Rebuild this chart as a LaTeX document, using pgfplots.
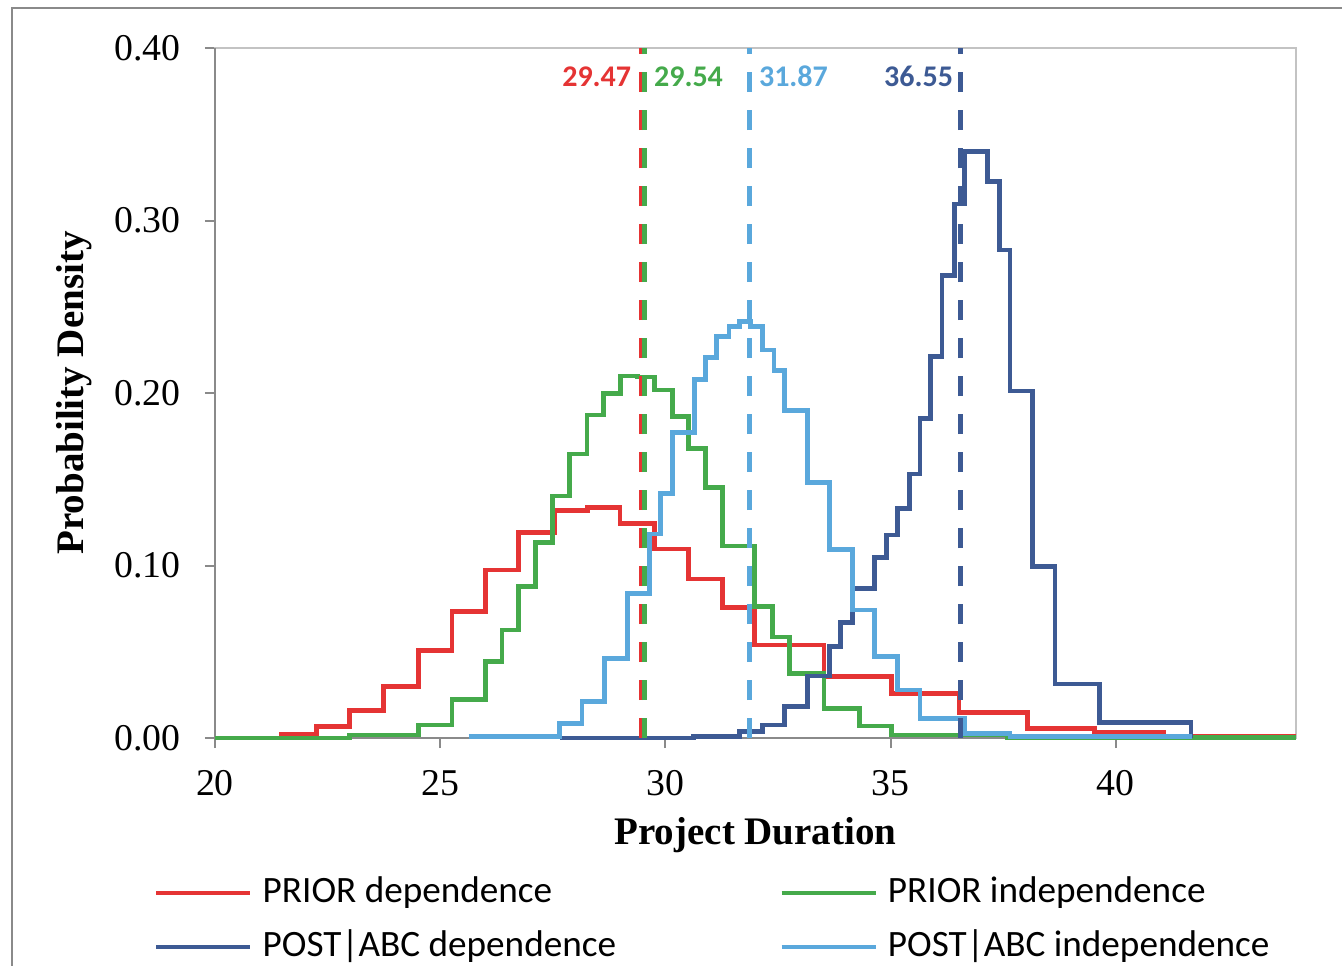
\documentclass[border=0pt]{standalone}
\usepackage{pgfplots}
\pgfplotsset{compat=1.18}
\usepackage{fontspec}
\setmainfont{Liberation Serif}
\newfontfamily\carlito{Carlito}

\definecolor{cRed}{RGB}{229,52,52}
\definecolor{cGreen}{RGB}{69,170,75}
\definecolor{cLight}{RGB}{90,168,220}
\definecolor{cDark}{RGB}{61,90,148}
\definecolor{axgray}{RGB}{138,138,138}
\definecolor{axlight}{RGB}{195,195,195}

\begin{document}
\begin{tikzpicture}
\begin{axis}[
  scale only axis,
  width=540.5pt, height=345pt,
  xmin=20, xmax=44, ymin=0, ymax=0.4,
  clip=false,
  xtick={20,25,30,35,40},
  ytick={0,0.1,0.2,0.3,0.4},
  xtick pos=bottom, ytick pos=left,
  tick align=outside,
  major tick length=5pt,
  tick style={axgray, line width=1pt},
  axis line style={axlight, line width=1pt},
  /pgf/number format/assume math mode=true,
  yticklabel={\pgfmathprintnumber[fixed,fixed zerofill,precision=2]{\tick}},
  ticklabel style={font=\fontsize{18.9}{22}\selectfont},
  yticklabel style={anchor=east, inner sep=0pt, xshift=-12pt},
  xticklabel style={anchor=north, inner sep=0pt, yshift=-11pt},
  xlabel={\bfseries Project Duration},
  ylabel={\bfseries Probability Density},
  label style={font=\fontsize{19.5}{23}\selectfont},
  xlabel style={at={(axis description cs:0.5,-0.155)}, anchor=base, inner sep=0pt},
  ylabel style={at={(axis description cs:-0.1221,0.5)}, anchor=base, inner sep=0pt},
  legend columns=2,
  legend cell align=left,
  legend image code/.code={\draw[#1, solid, line width=2.4pt] (0pt,0pt) -- (47pt,0pt);},
  legend style={at={(axis description cs:-0.0565,-0.2)}, anchor=north west,
    draw=none, fill=none, inner sep=0pt, outer sep=0pt, row sep=10pt,
    font=\carlito\fontsize{18.6}{22}\selectfont,
    nodes={inner sep=0pt, text height=13pt, text depth=4pt},
    /tikz/every odd column/.append style={column sep=5pt},
    /tikz/every even column/.append style={column sep=81.5pt}},
  hist/.style={line width=2.4pt, const plot},
  meanline/.style={line width=2.3pt, sharp plot, dash pattern=on 10pt off 9pt, forget plot},
]
% left and bottom axis lines are darker than the top and right ones
\draw[axgray, line width=1pt] (rel axis cs:0,1) -- (rel axis cs:0,0) -- (rel axis cs:1,0);

% PRIOR dependence
\addplot[cRed, hist] coordinates {
 (20,0) (21.48,0.002) (22.26,0.0065) (22.99,0.016) (23.74,0.030) (24.52,0.0506)
 (25.26,0.0732) (26.0,0.0974) (26.74,0.119) (27.53,0.132) (28.27,0.1337)
 (28.99,0.1244) (29.76,0.1096) (30.52,0.0922) (31.26,0.0758) (31.98,0.0539)
 (33.52,0.0356) (35.02,0.0259) (36.52,0.0147) (38.04,0.0056) (39.52,0.0033)
 (41.06,0.0012) (44,0.0012)};
\addlegendentry{PRIOR dependence}

% PRIOR independence
\addplot[cGreen, hist] coordinates {
 (20,0) (22.99,0.0017) (24.52,0.0075) (25.26,0.0224) (26.0,0.0442) (26.37,0.0626)
 (26.74,0.0877) (27.11,0.1132) (27.5,0.1403) (27.87,0.1646) (28.26,0.1872)
 (28.63,0.1998) (29.0,0.2099) (29.38,0.2093) (29.76,0.2017) (30.15,0.1863)
 (30.52,0.168) (30.89,0.1453) (31.27,0.1113) (31.98,0.0763) (32.37,0.0586)
 (32.75,0.0373) (33.52,0.0172) (34.3,0.007) (35.02,0.0017) (37.6,0.0003) (44,0.0003)};
\addlegendentry{PRIOR independence}

% POST|ABC dependence
\addplot[cDark, hist] coordinates {
 (27.65,0) (30.63,0.001) (31.65,0.0037) (32.15,0.0075) (32.64,0.0181) (33.15,0.0359)
 (33.64,0.0529) (33.89,0.0668) (34.15,0.0868) (34.65,0.1048) (34.9,0.1177)
 (35.15,0.1332) (35.41,0.153) (35.65,0.1853) (35.89,0.221) (36.14,0.268)
 (36.41,0.3096) (36.64,0.3399) (37.15,0.3225) (37.41,0.2829) (37.65,0.2012)
 (38.15,0.0993) (38.65,0.0313) (39.64,0.0089) (41.67,0)};
\addlegendentry{POST|ABC dependence}

% POST|ABC independence
\addplot[cLight, hist] coordinates {
 (25.63,0.0008) (27.65,0.0085) (28.15,0.021) (28.64,0.0462) (29.15,0.0839)
 (29.64,0.1183) (29.89,0.1419) (30.15,0.177) (30.64,0.2079) (30.89,0.2207)
 (31.13,0.2326) (31.41,0.2384) (31.65,0.2413) (31.89,0.2384) (32.15,0.2249)
 (32.41,0.2129) (32.64,0.1897) (33.15,0.148) (33.64,0.1094) (34.15,0.0742)
 (34.65,0.0471) (35.15,0.0278) (35.65,0.0114) (36.64,0.0027) (37.65,0.0008)
 (41.68,0.0008)};
\addlegendentry{POST|ABC independence}

% mean durations
\addplot[cRed, meanline] coordinates {(29.47,0) (29.47,0.4)};
\addplot[cGreen, meanline] coordinates {(29.54,0) (29.54,0.4)};
\addplot[cLight, meanline] coordinates {(31.87,0) (31.87,0.4)};
\addplot[cDark, meanline] coordinates {(36.55,0) (36.55,0.4)};

\begin{scope}[every node/.style={inner sep=0pt, font=\carlito\bfseries\fontsize{15}{18}\selectfont}]
\node[cRed, anchor=base east] at (axis cs:29.47,0.3774) [xshift=-5pt] {29.47};
\node[cGreen, anchor=base west] at (axis cs:29.54,0.3774) [xshift=4.5pt] {29.54};
\node[cLight, anchor=base west] at (axis cs:31.87,0.3774) [xshift=4.5pt] {31.87};
\node[cDark, anchor=base east] at (axis cs:36.55,0.3774) [xshift=-3.5pt] {36.55};
\end{scope}
\end{axis}
\pgfresetboundingbox
\path[use as bounding box] (-107.5pt,-113.5pt) rectangle (563.5pt,369pt);
\draw[axgray, line width=1pt] (-101.5pt,-200pt) -- (-101.5pt,365pt) -- (650pt,365pt);
\end{tikzpicture}
\end{document}
